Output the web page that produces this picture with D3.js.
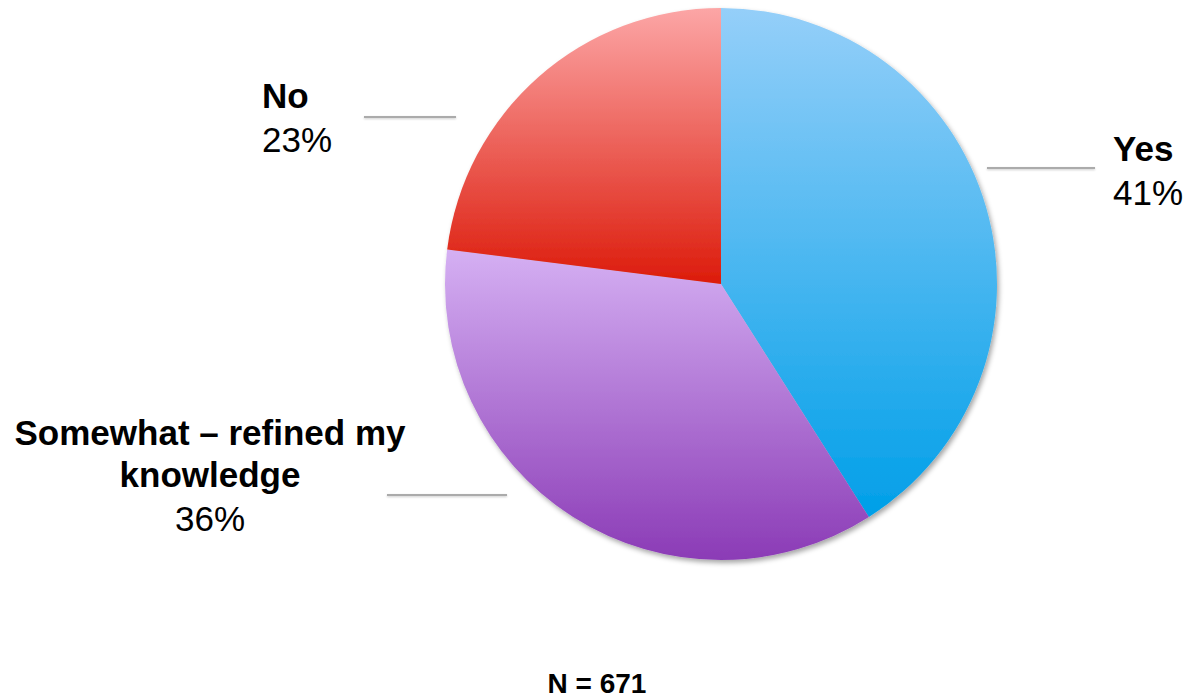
<!DOCTYPE html>
<html>
<head>
<meta charset="utf-8">
<script src="https://cdn.jsdelivr.net/npm/d3@7"></script>
<style>
  html, body { margin: 0; padding: 0; background: #fff; }
  svg { display: block; font-family: "Liberation Sans", Arial, sans-serif; }
</style>
</head>
<body>
<svg id="chart" width="1188" height="700"></svg>
<script>
// Survey responses
const categories = ["Yes", "Somewhat \u2013 refined my knowledge", "No"];
const values = [41, 36, 23];
const percentLabels = ["41%", "36%", "23%"];
const sampleNote = "N = 671";

// Gradient stops per slice (top, bottom)
const gradTop = ["#95cff9", "#d5b0f3", "#fca6a6"];
const gradBottom = ["#009fe8", "#8b3bb6", "#dc1b0b"];

const svg = d3.select("#chart");
const cx = 721, cy = 284, r = 276;

const defs = svg.append("defs");
const shadow = defs.append("filter").attr("id", "shadow")
  .attr("x", "-10%").attr("y", "-10%").attr("width", "120%").attr("height", "120%");
shadow.append("feDropShadow").attr("dx", 2).attr("dy", 3).attr("stdDeviation", 2.5)
  .attr("flood-color", "#000").attr("flood-opacity", 0.35);

categories.forEach((c, i) => {
  const g = defs.append("linearGradient").attr("id", "g" + i)
    .attr("x1", 0).attr("y1", 0).attr("x2", 0).attr("y2", 1);
  g.append("stop").attr("offset", "0%").attr("stop-color", gradTop[i]);
  g.append("stop").attr("offset", "100%").attr("stop-color", gradBottom[i]);
});

const pie = d3.pie().sort(null).value(d => d).startAngle(0).endAngle(2 * Math.PI);
const arc = d3.arc().innerRadius(0).outerRadius(r);
const arcs = pie(values);

const pieG = svg.append("g").attr("transform", `translate(${cx},${cy})`)
  .attr("filter", "url(#shadow)");
pieG.selectAll("path").data(arcs).join("path")
  .attr("d", arc)
  .attr("fill", (d, i) => `url(#g${i})`);

// Leader lines
const leaders = [
  { x1: 987, x2: 1095, y: 168 },
  { x1: 387, x2: 507, y: 495 },
  { x1: 364, x2: 456, y: 117 }
];
svg.append("g").selectAll("line").data(leaders).join("line")
  .attr("x1", d => d.x1).attr("x2", d => d.x2)
  .attr("y1", d => d.y).attr("y2", d => d.y)
  .attr("stroke", "#ababab").attr("stroke-width", 2)
  .style("filter", "drop-shadow(0px 1px 1px rgba(0,0,0,0.2))");

// Labels
const fs = 35;
const lineH = 43;
const labelSpecs = [
  { lines: [categories[0]], pct: percentLabels[0], x: 1113, y: 161, anchor: "start" },
  { lines: ["Somewhat \u2013 refined my", "knowledge"], pct: percentLabels[1], x: 210, y: 445, anchor: "middle" },
  { lines: [categories[2]], pct: percentLabels[2], x: 262, y: 108, anchor: "start" }
];
labelSpecs.forEach(s => {
  const t = svg.append("text").attr("text-anchor", s.anchor).attr("fill", "#000")
    .style("font-size", fs + "px");
  s.lines.forEach((ln, j) => {
    t.append("tspan").attr("x", s.x).attr("y", s.y + j * (lineH - 1))
      .attr("font-weight", "bold").text(ln);
  });
  t.append("tspan").attr("x", s.x).attr("y", s.y + (s.lines.length - 1) * (lineH - 1) + lineH + 1)
    .text(s.pct);
});

svg.append("text").attr("x", 597).attr("y", 693).attr("text-anchor", "middle")
  .attr("font-weight", "bold").style("font-size", "28px").text(sampleNote);
</script>
</body>
</html>
